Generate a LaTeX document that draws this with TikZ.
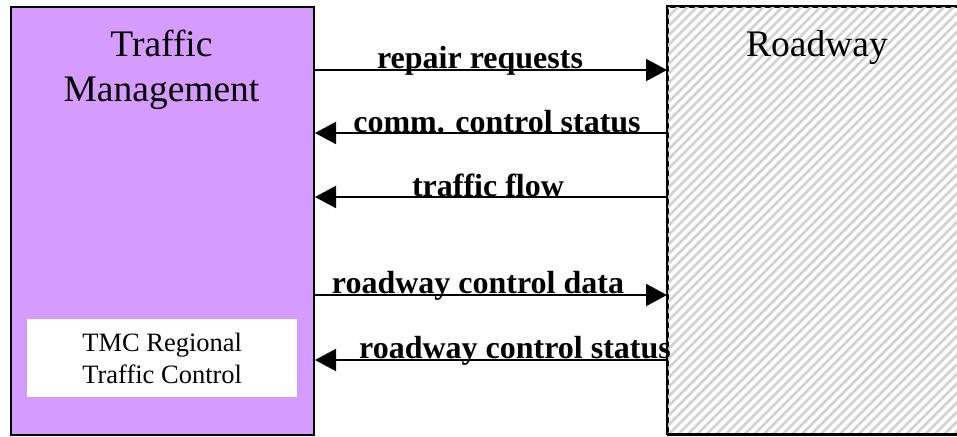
\documentclass[tikz,border=0pt]{standalone}
\usepackage{fontspec}
\setmainfont{Liberation Serif}
\usetikzlibrary{arrows.meta}
\definecolor{tmpurple}{RGB}{213,155,255}
\definecolor{hatchgray}{RGB}{210,210,210}
\tikzset{
  box/.style={draw=black, line width=2pt, anchor=north west, inner sep=0pt},
  flow/.style={line width=2pt, -{Triangle[length=21pt,width=22pt]}},
  flowlabel/.style={anchor=base, inner sep=0pt, font=\fontsize{32}{36}\selectfont\bfseries},
  title/.style={align=center, inner sep=0pt, anchor=north, font=\fontsize{37.5}{45}\selectfont},
}
\begin{document}
\begin{tikzpicture}[x=1pt,y=-1pt]
\useasboundingbox (0,0) rectangle (957,436);
% left box
\node[box, fill=tmpurple, minimum width=303pt, minimum height=428pt] (tm) at (10,6) {};
% right box
\node[box, fill=white, minimum width=300pt, minimum height=428pt] (rw) at (667,6) {};
\begin{scope}
  \clip (667,6) rectangle (967,434);
  \foreach \i in {230,239.5,...,975} {
    \draw[hatchgray, line width=2.6pt] (\i,436) -- ++(432,-432);
  }
\end{scope}
\draw[line width=2pt] (667,6) rectangle (967,434);
% titles
\node[title] (tmt) at (161.5,30) {Traffic\\Management};
\node[title] (rwt) at (817,30) {Roadway};
% inner box
\node[fill=white, minimum width=270pt, minimum height=78pt, anchor=north west, inner sep=0pt] (inner) at (27,319) {};
\node[align=center, inner sep=0pt, font=\fontsize{26.5}{32}\selectfont] (innert) at (inner.center) {TMC Regional\\Traffic Control};
% flows
\coordinate (a1) at (313,70);
\draw[flow] (tm.east |- a1) -- (rw.west |- a1);
\node[flowlabel] (l1) at (480,68) {repair requests};
\coordinate (a2) at (313,133);
\draw[flow] (rw.west |- a2) -- (tm.east |- a2);
\node[flowlabel] (l2) at (497,132) {comm. control status};
\coordinate (a3) at (313,197);
\draw[flow] (rw.west |- a3) -- (tm.east |- a3);
\node[flowlabel] (l3) at (488,196) {traffic flow};
\coordinate (a4) at (313,295);
\draw[flow] (tm.east |- a4) -- (rw.west |- a4);
\node[flowlabel] (l4) at (478,293) {roadway control data};
\coordinate (a5) at (313,360);
\draw[flow] (rw.west |- a5) -- (tm.east |- a5);
\node[flowlabel] (l5) at (515,358) {roadway control status};
\end{tikzpicture}
\end{document}
